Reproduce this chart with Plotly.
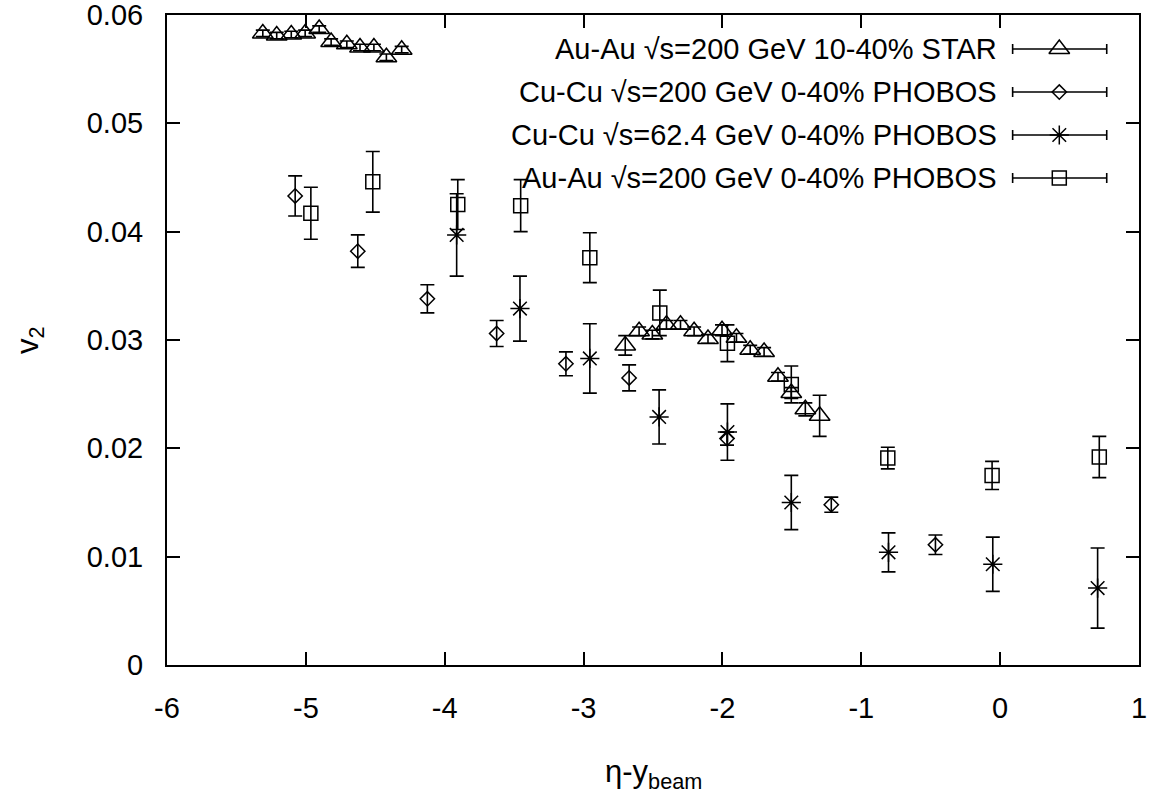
import plotly.graph_objects as go

# ---------------- data ----------------
star_x = [-5.31, -5.21, -5.105, -5.005, -4.904, -4.818, -4.705, -4.61, -4.51, -4.42, -4.31,
          -2.70, -2.60, -2.505, -2.403, -2.302, -2.204, -2.104, -2.003, -1.899, -1.80, -1.70,
          -1.60, -1.504, -1.403, -1.30]
star_y = [0.0583, 0.0581, 0.0582, 0.0583, 0.0587, 0.0575, 0.0573, 0.0570, 0.0570, 0.0561, 0.0568,
          0.0295, 0.0308, 0.0305, 0.0314, 0.0314, 0.0308, 0.0301, 0.0309, 0.0302, 0.0291, 0.0289,
          0.0266, 0.0251, 0.0236, 0.0230]
star_e = [0.0003, 0.0003, 0.0003, 0.0003, 0.0003, 0.0003, 0.0003, 0.0003, 0.0003, 0.0003, 0.0003,
          0.0009, 0.0004, 0.0004, 0.0004, 0.0004, 0.0004, 0.0004, 0.0005, 0.0004, 0.0004, 0.0004,
          0.0004, 0.0005, 0.0006, 0.0019]

cucu200_x = [-5.077, -4.626, -4.125, -3.626, -3.127, -2.672, -1.967, -1.216, -0.466]
cucu200_y = [0.0433, 0.0382, 0.0338, 0.0306, 0.0278, 0.0265, 0.0209, 0.0148, 0.0111]
cucu200_e = [0.00185, 0.0015, 0.0013, 0.0012, 0.0011, 0.0012, 0.0006, 0.0007, 0.0009]

cucu62_x = [-3.914, -3.458, -2.955, -2.456, -1.964, -1.504, -0.804, -0.053, 0.702]
cucu62_y = [0.0397, 0.0329, 0.0283, 0.0229, 0.0215, 0.0150, 0.0104, 0.0093, 0.0071]
cucu62_e = [0.0038, 0.0030, 0.0032, 0.0025, 0.0026, 0.0025, 0.0018, 0.0025, 0.0037]

auau_x = [-4.964, -4.518, -3.906, -3.453, -2.955, -2.451, -1.964, -1.504, -0.809, -0.058, 0.714]
auau_y = [0.0417, 0.0446, 0.0425, 0.0424, 0.0376, 0.0325, 0.0297, 0.0259, 0.0191, 0.0175, 0.0192]
auau_e = [0.0024, 0.0028, 0.0023, 0.0024, 0.0023, 0.0021, 0.0017, 0.0017, 0.0010, 0.0013, 0.0019]

labels = ["Au-Au \u221as=200 GeV 10-40% STAR",
          "Cu-Cu \u221as=200 GeV 0-40% PHOBOS",
          "Cu-Cu \u221as=62.4 GeV 0-40% PHOBOS",
          "Au-Au \u221as=200 GeV 0-40% PHOBOS"]

x_ticks = [-6, -5, -4, -3, -2, -1, 0, 1]
x_ticktext = ["-6", "-5", "-4", "-3", "-2", "-1", "0", "1"]
y_ticks = [0, 0.01, 0.02, 0.03, 0.04, 0.05, 0.06]
y_ticktext = ["0", "0.01", "0.02", "0.03", "0.04", "0.05", "0.06"]
x_title = "\u03b7-y<sub>beam</sub>"
y_title = "v<sub>2</sub>"

# ---------------- style ----------------
FONT = "Liberation Sans, Arial, Helvetica, sans-serif"
FS = 29
BLACK = "black"
series = [
    (star_x, star_y, star_e, "triangle-up-open", 18),
    (cucu200_x, cucu200_y, cucu200_e, "diamond-open", 11),
    (cucu62_x, cucu62_y, cucu62_e, "asterisk-open", 16),
    (auau_x, auau_y, auau_e, "square-open", 14),
]

fig = go.Figure()
for xs, ys, es, sym, sz in series:
    fig.add_trace(go.Scatter(
        x=xs, y=ys, mode="markers",
        marker=dict(symbol=sym, size=sz, color=BLACK, line=dict(color=BLACK, width=1.5)),
        error_y=dict(type="data", array=es, visible=True, color=BLACK, thickness=1.6, width=7),
        showlegend=False, xaxis="x", yaxis="y"))

# legend (gnuplot style: right-aligned text, sample to the right)
row_y = [0.9477, 0.8815, 0.8154, 0.7492]
text_right = 0.8560
samp_l, samp_m, samp_r = 0.8700, 0.9180, 0.9668
for i, (xs, ys, es, sym, sz) in enumerate(series):
    fig.add_annotation(xref="paper", yref="paper", x=text_right, y=row_y[i],
                       text=labels[i], showarrow=False, xanchor="right", yanchor="middle",
                       font=dict(family=FONT, size=FS, color=BLACK))
    fig.add_trace(go.Scatter(
        x=[samp_m], y=[row_y[i]], mode="markers",
        marker=dict(symbol=sym, size=sz, color=BLACK, line=dict(color=BLACK, width=1.5)),
        error_x=dict(type="data", symmetric=False, array=[samp_r - samp_m],
                     arrayminus=[samp_m - samp_l], visible=True, color=BLACK,
                     thickness=1.6, width=5),
        showlegend=False, xaxis="x2", yaxis="y2", hoverinfo="skip"))

# axis titles
fig.add_annotation(xref="paper", yref="paper", x=0.5, y=-0.168, text=x_title,
                   showarrow=False, xanchor="center", yanchor="middle",
                   font=dict(family=FONT, size=31, color=BLACK))
fig.add_annotation(xref="paper", yref="paper", x=-0.141, y=0.5, text=y_title,
                   showarrow=False, xanchor="center", yanchor="middle", textangle=-90,
                   font=dict(family=FONT, size=31, color=BLACK))

axis_common = dict(showline=True, linecolor=BLACK, linewidth=2, mirror="ticks",
                   ticks="inside", ticklen=13, tickwidth=1.5, tickcolor=BLACK,
                   showgrid=False, zeroline=False, automargin=False,
                   ticklabeloverflow="allow",
                   tickfont=dict(family=FONT, size=FS, color=BLACK))

fig.update_layout(
    width=1152, height=803,
    margin=dict(l=167, r=13, t=15, b=138),
    paper_bgcolor="white", plot_bgcolor="white",
    xaxis=dict(range=[-6, 1], tickvals=x_ticks, ticktext=x_ticktext,
               ticklabelstandoff=16, **axis_common),
    yaxis=dict(range=[0, 0.06], tickvals=y_ticks, ticktext=y_ticktext,
               ticklabelstandoff=16, **axis_common),
    xaxis2=dict(range=[0, 1], overlaying="x", visible=False, fixedrange=True),
    yaxis2=dict(range=[0, 1], overlaying="y", visible=False, fixedrange=True),
    showlegend=False,
)

fig.write_html("out.html", config={"displayModeBar": False},
               post_script="document.body.style.margin='0';document.body.style.overflow='hidden';")
